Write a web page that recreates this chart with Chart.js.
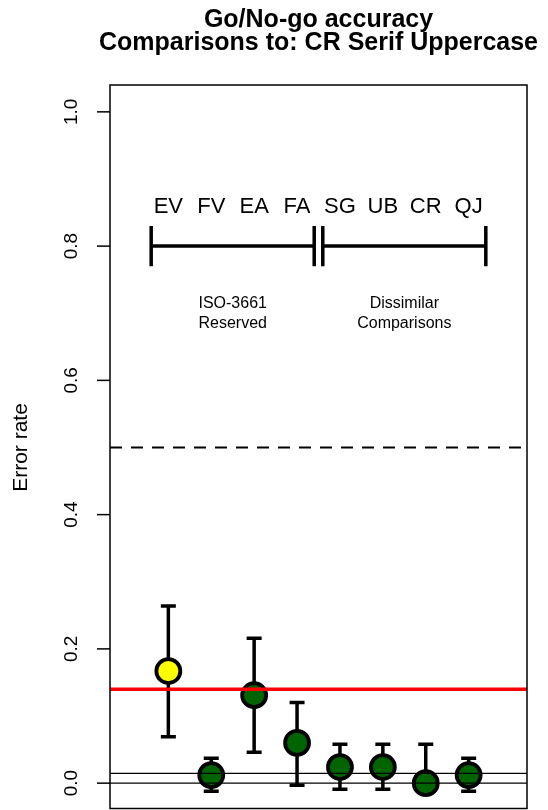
<!DOCTYPE html>
<html>
<head>
<meta charset="utf-8">
<script src="https://cdn.jsdelivr.net/npm/chart.js@4.4.1/dist/chart.umd.min.js"></script>
<style>
  html, body { margin: 0; padding: 0; background: #ffffff; overflow: hidden; }
  canvas { display: block; }
</style>
</head>
<body>
<canvas id="chart" width="548" height="810" style="width:548px;height:810px"></canvas>
<script>
// Comparison letter pairs, plotted at x = 1..8
const categories = ['EV', 'FV', 'EA', 'FA', 'SG', 'UB', 'CR', 'QJ'];
// Go/No-go error rate per comparison, with interval bounds
const errorRate = [0.167, 0.012, 0.131, 0.060, 0.024, 0.024, 0.000, 0.012];
const errorUpper = [0.264, 0.037, 0.216, 0.120, 0.058, 0.058, 0.058, 0.037];
const errorLower = [0.069, -0.012, 0.046, -0.003, -0.009, -0.009, 0.000, -0.012];

// Reference levels
const chanceLevel = 0.5;
const criterionLevel = 0.14;
const floorLevels = [0.0, 0.0145];

// Comparison groups (bracket spans in x units) and their captions
const groupNames = [['ISO-3661', 'Reserved'], ['Dissimilar', 'Comparisons']];
const groupStart = [0.6, 4.6];
const groupEnd = [4.4, 8.4];

// Axis ticks
const yTicks = [0.0, 0.2, 0.4, 0.6, 0.8, 1.0];
const yTickLabels = ['0.0', '0.2', '0.4', '0.6', '0.8', '1.0'];

const FONT = '"Liberation Sans", Arial, Helvetica, sans-serif';
const X_MIN = -0.36, X_MAX = 9.36, Y_MIN = -0.04, Y_MAX = 1.04;

const xs = categories.map((c, i) => i + 1);
const pointData = xs.map((x, i) => ({ x: x, y: errorRate[i] }));
const pointFill = categories.map((c, i) => i === 0 ? '#FFFF00' : '#006400');

function hLine(y) {
  return [{ x: X_MIN, y: y }, { x: X_MAX, y: y }];
}
function bracket(a, b, y, h) {
  return [
    { x: a, y: y + h }, { x: a, y: y - h }, { x: a, y: y },
    { x: b, y: y }, { x: b, y: y + h }, { x: b, y: y - h }
  ];
}

const lineStyle = { type: 'line', showLine: true, pointRadius: 0, pointHoverRadius: 0, fill: false, tension: 0 };

const datasets = [
  Object.assign({}, lineStyle, { label: 'criterion', data: hLine(criterionLevel), borderColor: '#FF0000', borderWidth: 3.5, order: 0 }),
  Object.assign({}, lineStyle, { label: 'chance', data: hLine(chanceLevel), borderColor: '#000000', borderWidth: 2, borderDash: [12, 9], order: 0 }),
  ...floorLevels.map(v => Object.assign({}, lineStyle, { label: 'floor', data: hLine(v), borderColor: '#000000', borderWidth: 1.2, order: 0 })),
  ...groupStart.map((s, g) => Object.assign({}, lineStyle, { label: 'group', data: bracket(s, groupEnd[g], 0.8, 0.03), borderColor: '#000000', borderWidth: 3.5, borderCapStyle: 'butt', borderJoinStyle: 'miter', order: 0 })),
  {
    type: 'scatter', label: 'Error rate', data: pointData,
    pointRadius: 12, pointHoverRadius: 12,
    pointBackgroundColor: pointFill, pointBorderColor: '#000000', pointBorderWidth: 3.8,
    pointHoverBorderWidth: 3.8, order: 1
  }
];

const decorations = {
  id: 'decorations',
  beforeDatasetsDraw(chart) {
    const ctx = chart.ctx, xS = chart.scales.x, yS = chart.scales.y;
    // interval bars under the points
    ctx.save();
    ctx.strokeStyle = '#000000';
    ctx.lineWidth = 3.5;
    ctx.lineCap = 'butt';
    xs.forEach((x, i) => {
      const px = xS.getPixelForValue(x);
      const top = yS.getPixelForValue(errorUpper[i]);
      const bot = yS.getPixelForValue(errorLower[i]);
      ctx.beginPath();
      ctx.moveTo(px, top); ctx.lineTo(px, bot);
      ctx.moveTo(px - 7.5, top); ctx.lineTo(px + 7.5, top);
      ctx.moveTo(px - 7.5, bot); ctx.lineTo(px + 7.5, bot);
      ctx.stroke();
    });
    ctx.restore();
  },
  afterDatasetsDraw(chart) {
    const ctx = chart.ctx, xS = chart.scales.x, yS = chart.scales.y, area = chart.chartArea;
    ctx.save();
    ctx.fillStyle = '#000000';
    ctx.strokeStyle = '#000000';

    // plot frame (bottom edge kept inside the canvas)
    ctx.lineWidth = 1.5;
    ctx.strokeRect(area.left, area.top, area.right - area.left, area.bottom - 1.5 - area.top);

    // y ticks and rotated labels
    ctx.lineWidth = 1.5;
    ctx.font = '19px ' + FONT;
    ctx.textAlign = 'center';
    ctx.textBaseline = 'middle';
    yTicks.forEach((v, i) => {
      const py = yS.getPixelForValue(v);
      ctx.beginPath();
      ctx.moveTo(area.left - 13, py); ctx.lineTo(area.left, py);
      ctx.stroke();
      ctx.save();
      ctx.translate(area.left - 38, py);
      ctx.rotate(-Math.PI / 2);
      ctx.fillText(yTickLabels[i], 0, 0);
      ctx.restore();
    });

    // y axis title
    ctx.save();
    ctx.font = '21px ' + FONT;
    ctx.translate(21, (area.top + area.bottom) / 2);
    ctx.rotate(-Math.PI / 2);
    ctx.fillText('Error rate', 0, 0);
    ctx.restore();

    // comparison labels above the brackets
    ctx.font = '22px ' + FONT;
    ctx.textBaseline = 'alphabetic';
    categories.forEach((c, i) => {
      ctx.fillText(c, xS.getPixelForValue(xs[i]), yS.getPixelForValue(0.85));
    });

    // group captions
    ctx.font = '16px ' + FONT;
    ctx.textBaseline = 'middle';
    groupNames.forEach((lines, g) => {
      const cx = xS.getPixelForValue((groupStart[g] + groupEnd[g]) / 2);
      const cy = yS.getPixelForValue(0.699);
      ctx.fillText(lines[0], cx, cy - 10);
      ctx.fillText(lines[1], cx, cy + 10);
    });

    // title
    const tx = (area.left + area.right) / 2;
    ctx.font = 'bold 25px ' + FONT;
    ctx.textBaseline = 'alphabetic';
    ctx.fillText('Go/No-go accuracy', tx, 27);
    ctx.fillText('Comparisons to: CR Serif Uppercase', tx, 50);
    ctx.restore();
  }
};

new Chart(document.getElementById('chart'), {
  data: { datasets: datasets },
  options: {
    responsive: false,
    maintainAspectRatio: false,
    devicePixelRatio: 1,
    animation: false,
    layout: { autoPadding: false, padding: { left: 110, right: 21, top: 85, bottom: 0 } },
    plugins: { legend: { display: false }, tooltip: { enabled: false }, title: { display: false } },
    scales: {
      x: { type: 'linear', min: X_MIN, max: X_MAX, display: false },
      y: { type: 'linear', min: Y_MIN, max: Y_MAX, display: false }
    }
  },
  plugins: [decorations]
});
</script>
</body>
</html>
